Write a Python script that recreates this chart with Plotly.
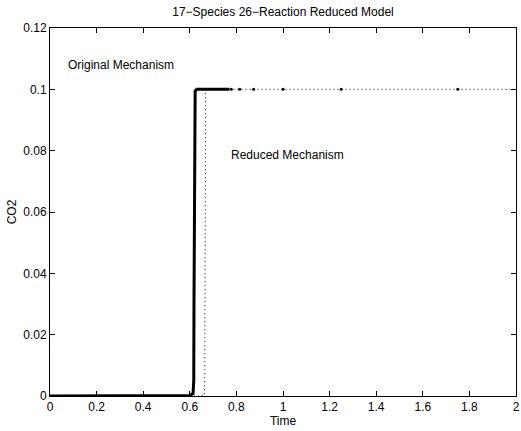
import plotly.graph_objects as go

# Original mechanism (solid, thick)
orig_t = [0.0, 0.1, 0.2, 0.3, 0.4, 0.5, 0.6, 0.614, 0.617, 0.618, 0.619, 0.620, 0.621, 0.623, 0.63, 0.64, 0.66, 0.7, 0.74, 0.77]
orig_co2 = [0.0, 0.0, 0.0, 0.0, 0.0, 0.0, 0.0002, 0.0008, 0.005, 0.03, 0.06, 0.085, 0.097, 0.0995, 0.1, 0.1, 0.1, 0.1, 0.1, 0.1]
# Original mechanism sparse late-time points
orig_pts_t = [0.778, 0.814, 0.874, 1.0, 1.25, 1.75]
orig_pts_co2 = [0.1, 0.1, 0.1, 0.1, 0.1, 0.1]
# Reduced mechanism (dotted)
red_t = [0.0, 0.3, 0.6, 0.662, 0.664, 0.665, 0.666, 0.667, 0.668, 0.672, 0.68, 0.7, 1.0, 1.5, 2.0]
red_co2 = [0.0, 0.0, 0.0, 0.0, 0.005, 0.04, 0.08, 0.095, 0.099, 0.1, 0.1, 0.1, 0.1, 0.1, 0.1]

x_ticks = [0, 0.2, 0.4, 0.6, 0.8, 1, 1.2, 1.4, 1.6, 1.8, 2]
x_tick_text = ["0", "0.2", "0.4", "0.6", "0.8", "1", "1.2", "1.4", "1.6", "1.8", "2"]
y_ticks = [0, 0.02, 0.04, 0.06, 0.08, 0.1, 0.12]
y_tick_text = ["0", "0.02", "0.04", "0.06", "0.08", "0.1", "0.12"]

font = dict(family="Liberation Sans, Arial, sans-serif", size=12, color="black")

fig = go.Figure()
fig.add_trace(go.Scatter(x=red_t, y=red_co2, mode="lines",
                         line=dict(color="black", width=1, dash="1px,3px"), showlegend=False))
fig.add_trace(go.Scatter(x=orig_t, y=orig_co2, mode="lines",
                         line=dict(color="black", width=3), showlegend=False))
fig.add_trace(go.Scatter(x=orig_pts_t, y=orig_pts_co2, mode="markers",
                         marker=dict(color="black", size=3), showlegend=False))

fig.add_annotation(x=0.07, y=0.108, text="Original Mechanism", showarrow=False,
                   xanchor="left", yanchor="middle", font=font)
fig.add_annotation(x=0.77, y=0.0785, text="Reduced Mechanism", showarrow=False,
                   xanchor="left", yanchor="middle", font=font)

axis_common = dict(showgrid=False, zeroline=False, showline=True, linecolor="black",
                   linewidth=1, mirror="ticks", ticks="inside", ticklen=5,
                   tickcolor="black", tickfont=font, automargin=False,
                   ticklabeloverflow="allow")

fig.update_layout(
    width=521, height=431,
    margin=dict(l=50, r=5, t=28, b=35),
    paper_bgcolor="white", plot_bgcolor="white",
    font=font,
    title=dict(text="17\u2212Species 26\u2212Reaction Reduced Model", x=0.5, xref="paper",
               y=1, yref="container", yanchor="top", pad=dict(t=8), font=font),
    xaxis=dict(range=[0, 2], tickvals=x_ticks, ticktext=x_tick_text,
               title=dict(text="Time", font=font, standoff=0), **axis_common),
    yaxis=dict(range=[0, 0.12], tickvals=y_ticks, ticktext=y_tick_text,
               title=dict(text="CO2", font=font, standoff=4), **axis_common),
)

fig.write_html("out.html")
